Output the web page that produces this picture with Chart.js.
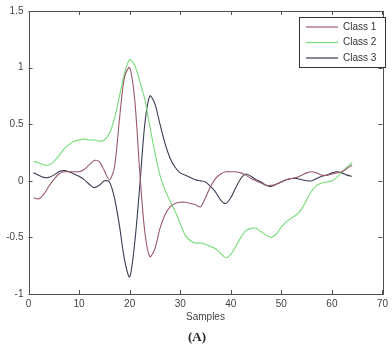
<!DOCTYPE html>
<html>
<head>
<meta charset="utf-8">
<script src="https://cdn.jsdelivr.net/npm/chart.js@4"></script>
<style>
  html, body { margin: 0; padding: 0; background: #fff; }
  #wrap { width: 392px; height: 354px; }
</style>
</head>
<body>
<div id="wrap"><canvas id="chart" width="392" height="354"></canvas></div>
<script>
// samples 1..64
const samples = Array.from({ length: 64 }, (_, i) => i + 1);

const class1 = [-0.15, -0.16, -0.12, -0.05, 0.01, 0.06, 0.08, 0.08, 0.08, 0.08,
  0.10, 0.14, 0.18, 0.17, 0.09, 0.01, 0.12, 0.55, 0.92, 1.0,
  0.72, 0.08, -0.45, -0.67, -0.6, -0.42, -0.3, -0.23, -0.2, -0.19,
  -0.19, -0.2, -0.21, -0.23, -0.15, -0.05, 0.02, 0.06, 0.08, 0.08,
  0.08, 0.07, 0.05, 0.02, 0.0, -0.02, -0.04, -0.04, -0.03, -0.01,
  0.01, 0.02, 0.03, 0.05, 0.07, 0.08, 0.07, 0.05, 0.05, 0.06,
  0.07, 0.08, 0.11, 0.14];

const class2 = [0.17, 0.16, 0.14, 0.14, 0.17, 0.22, 0.28, 0.32, 0.35, 0.36,
  0.37, 0.36, 0.36, 0.35, 0.36, 0.42, 0.55, 0.75, 0.95, 1.07,
  1.02, 0.88, 0.72, 0.48, 0.25, 0.05, -0.08, -0.18, -0.27, -0.38,
  -0.48, -0.53, -0.55, -0.55, -0.56, -0.58, -0.6, -0.64, -0.68, -0.65,
  -0.58, -0.5, -0.44, -0.42, -0.42, -0.45, -0.48, -0.5, -0.47, -0.41,
  -0.36, -0.33, -0.3, -0.25, -0.17, -0.09, -0.04, -0.02, -0.01, 0.0,
  0.03, 0.08, 0.12, 0.16];

const class3 = [0.07, 0.05, 0.03, 0.03, 0.05, 0.08, 0.09, 0.08, 0.06, 0.04,
  0.01, -0.03, -0.06, -0.04, 0.0, -0.01, -0.15, -0.4, -0.7, -0.85,
  -0.55, -0.05, 0.5, 0.75, 0.68, 0.5, 0.33, 0.2, 0.12, 0.07,
  0.05, 0.03, 0.01, 0.0, -0.01, -0.05, -0.1, -0.17, -0.2, -0.15,
  -0.06, 0.02, 0.06, 0.04, 0.01, -0.01, -0.04, -0.05, -0.03, -0.01,
  0.01, 0.02, 0.02, 0.01, 0.0, 0.0, 0.02, 0.04, 0.05, 0.07,
  0.08, 0.07, 0.05, 0.04];

const seriesNames = ['Class 1', 'Class 2', 'Class 3'];
const seriesColors = ['#9b5a6c', '#74dc78', '#3a3a52'];

const xTicks = [0, 10, 20, 30, 40, 50, 60, 70];
const yTicks = [-1, -0.5, 0, 0.5, 1, 1.5];

function toPoints(vals) {
  return vals.map((v, i) => ({ x: samples[i], y: v }));
}

// matlab style box, inward ticks, legend and caption
const matlabFrame = {
  id: 'matlabFrame',
  afterDatasetsDraw(chart) {
    const ctx = chart.ctx;
    const a = chart.chartArea;
    const xs = chart.scales.x, ys = chart.scales.y;
    ctx.save();
    ctx.strokeStyle = '#505050';
    ctx.lineWidth = 1;
    ctx.strokeRect(Math.round(a.left) + 0.5, Math.round(a.top) + 0.5,
      Math.round(a.right - a.left), Math.round(a.bottom - a.top));
    ctx.beginPath();
    xTicks.forEach(t => {
      const px = Math.round(xs.getPixelForValue(t)) + 0.5;
      ctx.moveTo(px, a.bottom); ctx.lineTo(px, a.bottom - 4);
      ctx.moveTo(px, a.top); ctx.lineTo(px, a.top + 4);
    });
    yTicks.forEach(t => {
      const py = Math.round(ys.getPixelForValue(t)) + 0.5;
      ctx.moveTo(a.left, py); ctx.lineTo(a.left + 4, py);
      ctx.moveTo(a.right, py); ctx.lineTo(a.right - 4, py);
    });
    ctx.stroke();

    // legend
    const lx = 299, ly = 17, lw = 86, lh = 50;
    ctx.fillStyle = '#fff';
    ctx.fillRect(lx, ly, lw, lh);
    ctx.strokeStyle = '#333';
    ctx.strokeRect(lx + 0.5, ly + 0.5, lw, lh);
    ctx.font = '10px "Liberation Sans", Arial, sans-serif';
    ctx.textBaseline = 'middle';
    chart.data.datasets.forEach((ds, i) => {
      const y = ly + 10 + i * 15.5;
      ctx.strokeStyle = ds.borderColor;
      ctx.lineWidth = 1.2;
      ctx.beginPath();
      ctx.moveTo(lx + 7, y); ctx.lineTo(lx + 39, y);
      ctx.stroke();
      ctx.fillStyle = '#333';
      ctx.fillText(ds.label, lx + 44, y);
    });

    ctx.fillStyle = '#222';
    ctx.font = 'bold 13px "Liberation Serif", "Times New Roman", serif';
    ctx.textAlign = 'center';
    ctx.fillText('(A)', 197, 338);
    ctx.restore();
  }
};

const ctx = document.getElementById('chart').getContext('2d');
const chart = new Chart(ctx, {
  type: 'line',
  data: {
    datasets: seriesNames.map((name, i) => ({
      label: name,
      data: toPoints([class1, class2, class3][i]),
      borderColor: seriesColors[i],
      borderWidth: 1.1,
      pointRadius: 0,
      tension: 0.3,
      fill: false
    }))
  },
  options: {
    responsive: false,
    animation: false,
    layout: { padding: { top: 11, right: 6, left: 0, bottom: 24 } },
    plugins: {
      legend: { display: false },
      tooltip: { enabled: false }
    },
    scales: {
      x: {
        type: 'linear',
        min: 0, max: 70,
        afterBuildTicks: s => { s.ticks = xTicks.map(v => ({ value: v })); },
        afterFit: s => { s.height = 36; },
        grid: { display: false, drawTicks: false },
        border: { display: false },
        ticks: {
          padding: 4,
          color: '#444',
          maxRotation: 0,
          font: { family: '"Liberation Sans", Arial, sans-serif', size: 10 }
        },
        title: {
          display: true,
          text: 'Samples',
          color: '#444',
          padding: { top: 2, bottom: 7 },
          font: { family: '"Liberation Sans", Arial, sans-serif', size: 10 }
        }
      },
      y: {
        min: -1, max: 1.5,
        afterBuildTicks: s => { s.ticks = yTicks.map(v => ({ value: v })); },
        afterFit: s => { s.width = 28.5; },
        grid: { display: false, drawTicks: false },
        border: { display: false },
        ticks: {
          padding: 5,
          color: '#444',
          font: { family: '"Liberation Sans", Arial, sans-serif', size: 10 },
          callback: v => String(v)
        }
      }
    }
  },
  plugins: [matlabFrame]
});
</script>
</body>
</html>
